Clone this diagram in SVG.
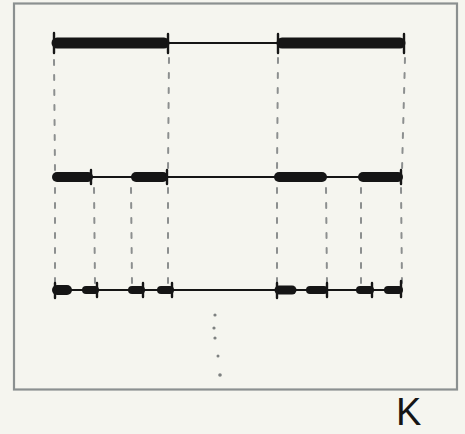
<svg xmlns="http://www.w3.org/2000/svg" width="465" height="434" viewBox="0 0 465 434">
<style>
.bg{fill:#f5f5ef}
.frame{fill:none;stroke:#8b9090;stroke-width:2.2}
.axis{stroke:#151515;stroke-width:2.2;fill:none;stroke-linecap:round}
.seg{stroke:#151515;stroke-linecap:round;fill:none}
.tick{stroke:#151515;stroke-width:2.4;stroke-linecap:round}
.guide{stroke:#8c8f8f;stroke-width:2;stroke-dasharray:5 10;stroke-linecap:round;fill:none}
.dot{fill:#7d8080}
.lbl{font-family:"Liberation Sans",Arial,sans-serif;font-size:38px;fill:#151515}
</style>
<rect class="bg" x="0" y="0" width="465" height="434"/>
<rect class="frame" x="14" y="3.5" width="443" height="386"/>
<g id="connectors">
<line class="guide" x1="54" y1="60" x2="55" y2="170"/>
<line class="guide" x1="169" y1="58" x2="168" y2="170"/>
<line class="guide" x1="278" y1="58" x2="277" y2="170"/>
<line class="guide" x1="405" y1="58" x2="402" y2="170"/>
<line class="guide" x1="55" y1="188" x2="55" y2="283"/>
<line class="guide" x1="94" y1="188" x2="95" y2="283"/>
<line class="guide" x1="131" y1="188" x2="132" y2="283"/>
<line class="guide" x1="168" y1="188" x2="168" y2="283"/>
<line class="guide" x1="277" y1="188" x2="277" y2="283"/>
<line class="guide" x1="326" y1="188" x2="327" y2="283"/>
<line class="guide" x1="361" y1="188" x2="361" y2="283"/>
<line class="guide" x1="401" y1="188" x2="402" y2="283"/>
</g>
<g id="level0">
<line class="axis" x1="54" y1="43" x2="404" y2="43"/>
<line class="seg" x1="57" y1="43" x2="164" y2="43" stroke-width="11"/>
<line class="seg" x1="282" y1="43" x2="400" y2="43" stroke-width="11"/>
<line class="tick" x1="54" y1="33" x2="54" y2="53"/>
<line class="tick" x1="168" y1="34" x2="168" y2="53"/>
<line class="tick" x1="278" y1="34" x2="278" y2="53"/>
<line class="tick" x1="404" y1="34" x2="404" y2="53"/>
</g>
<g id="level1">
<line class="axis" x1="54" y1="177" x2="401" y2="177"/>
<line class="seg" x1="57" y1="177" x2="88" y2="177" stroke-width="10"/>
<line class="seg" x1="136" y1="177" x2="163" y2="177" stroke-width="10"/>
<line class="seg" x1="279" y1="177" x2="322" y2="177" stroke-width="10"/>
<line class="seg" x1="363" y1="177" x2="398" y2="177" stroke-width="10"/>
<line class="tick" x1="91" y1="170" x2="91" y2="184"/>
<line class="tick" x1="167" y1="170" x2="167" y2="184"/>
<line class="tick" x1="401" y1="170" x2="401" y2="184"/>
</g>
<g id="level2">
<line class="axis" x1="54" y1="290" x2="401" y2="290"/>
<line class="seg" x1="57" y1="290" x2="67" y2="290" stroke-width="10"/>
<line class="seg" x1="86" y1="290" x2="95" y2="290" stroke-width="8"/>
<line class="seg" x1="132" y1="290" x2="141" y2="290" stroke-width="8"/>
<line class="seg" x1="161" y1="290" x2="170" y2="290" stroke-width="8"/>
<line class="seg" x1="279" y1="290" x2="292" y2="290" stroke-width="9"/>
<line class="seg" x1="310" y1="290" x2="324" y2="290" stroke-width="8"/>
<line class="seg" x1="360" y1="290" x2="370" y2="290" stroke-width="8"/>
<line class="seg" x1="388" y1="290" x2="399" y2="290" stroke-width="8"/>
<line class="tick" x1="55" y1="283" x2="55" y2="298"/>
<line class="tick" x1="97" y1="283" x2="97" y2="297"/>
<line class="tick" x1="143" y1="283" x2="143" y2="297"/>
<line class="tick" x1="172" y1="283" x2="172" y2="297"/>
<line class="tick" x1="277" y1="283" x2="277" y2="298"/>
<line class="tick" x1="327" y1="283" x2="327" y2="297"/>
<line class="tick" x1="372" y1="283" x2="372" y2="297"/>
<line class="tick" x1="401" y1="281" x2="401" y2="297"/>
</g>
<g id="ellipsis">
<circle class="dot" cx="215" cy="315" r="1.6"/>
<circle class="dot" cx="214" cy="328" r="1.6"/>
<circle class="dot" cx="215" cy="338" r="1.6"/>
<circle class="dot" cx="218" cy="356" r="1.5"/>
<circle class="dot" cx="220" cy="375" r="1.8"/>
</g>
<g id="label-K">
<text class="lbl" x="396" y="425">K</text>
</g>
</svg>
